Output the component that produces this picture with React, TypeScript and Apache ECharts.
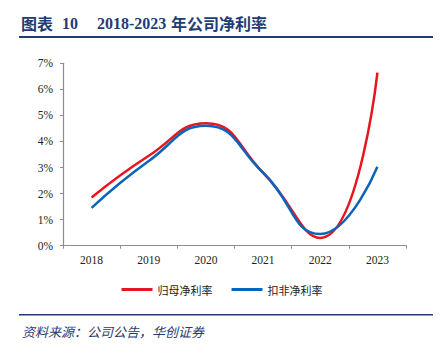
import React, { useEffect, useRef } from "react";
import * as echarts from "echarts";

const categories = ["2018", "2019", "2020", "2021", "2022", "2023"];
const parentNetMargin = [1.85, 3.45, 4.7, 2.8, 0.3, 6.64];
const deductedNetMargin = [1.45, 3.25, 4.6, 2.8, 0.45, 3.03];
const yTicks = [0, 1, 2, 3, 4, 5, 6, 7];
const seriesNames = ["归母净利率", "扣非净利率"];

const NAVY = "#1F3C74";
const RED = "#E8141E";
const BLUE = "#0A64B8";
const SERIF = "'Liberation Serif', 'Times New Roman', 'Noto Sans CJK SC', serif";
const CJK = "'Noto Sans CJK SC', sans-serif";

export default function App() {
  const ref = useRef<HTMLDivElement>(null);
  useEffect(() => {
    if (!ref.current) return;
    const chart = echarts.init(ref.current, undefined, { renderer: "svg" });
    chart.setOption({
      animation: false,
      backgroundColor: "#ffffff",
      graphic: [
        { type: "text", left: 21, top: 15, style: { text: "图表", font: `bold 16px ${CJK}`, fill: NAVY } },
        { type: "text", left: 62, top: 15, style: { text: "10", font: `bold 16px ${SERIF}`, fill: NAVY } },
        { type: "text", left: 97, top: 15, style: { text: "2018-2023", font: `bold 16px ${SERIF}`, fill: NAVY } },
        { type: "text", left: 171, top: 15, style: { text: "年公司净利率", font: `bold 16px ${CJK}`, fill: NAVY } },
        { type: "rect", shape: { x: 19, y: 36, width: 414, height: 2 }, style: { fill: NAVY } },
        { type: "rect", shape: { x: 19, y: 314, width: 414, height: 1.5 }, style: { fill: NAVY } },
        {
          type: "text",
          left: 22,
          top: 325,
          style: { text: "资料来源：公司公告，华创证券", font: `italic 13px ${CJK}`, fill: NAVY },
        },
      ],
      legend: {
        data: seriesNames,
        top: 279,
        left: "center",
        icon: "rect",
        itemWidth: 31,
        itemHeight: 3,
        itemGap: 19,
        textStyle: { fontSize: 11, color: "#222", fontFamily: CJK, padding: [0, 0, 0, 0] },
      },
      grid: { left: 63, right: 38, top: 63.3, bottom: 108.3, containLabel: false },
      xAxis: {
        type: "category",
        data: categories,
        boundaryGap: true,
        axisLine: { lineStyle: { color: "#8C8C8C", width: 1.2 } },
        axisTick: { show: true, length: 3, inside: false, lineStyle: { color: "#8C8C8C" } },
        axisLabel: { fontFamily: SERIF, fontSize: 11.5, color: "#222", margin: 9 },
      },
      yAxis: {
        type: "value",
        min: yTicks[0],
        max: yTicks[yTicks.length - 1],
        interval: 1,
        splitLine: { show: false },
        axisLine: { show: true, lineStyle: { color: "#8C8C8C", width: 1.2 } },
        axisTick: { show: true, length: 3, inside: false, lineStyle: { color: "#8C8C8C" } },
        axisLabel: { fontFamily: SERIF, fontSize: 11.5, color: "#222", margin: 10, formatter: "{value}%" },
      },
      series: [
        {
          name: seriesNames[0],
          type: "line",
          data: parentNetMargin,
          smooth: 0.5,
          symbol: "none",
          lineStyle: { color: RED, width: 2.5 },
          itemStyle: { color: RED },
        },
        {
          name: seriesNames[1],
          type: "line",
          data: deductedNetMargin,
          smooth: 0.5,
          symbol: "none",
          lineStyle: { color: BLUE, width: 2.5 },
          itemStyle: { color: BLUE },
        },
      ],
    });
    return () => chart.dispose();
  }, []);
  return <div ref={ref} style={{ width: 444, height: 354, position: "absolute", left: 0, top: 0 }} />;
}
